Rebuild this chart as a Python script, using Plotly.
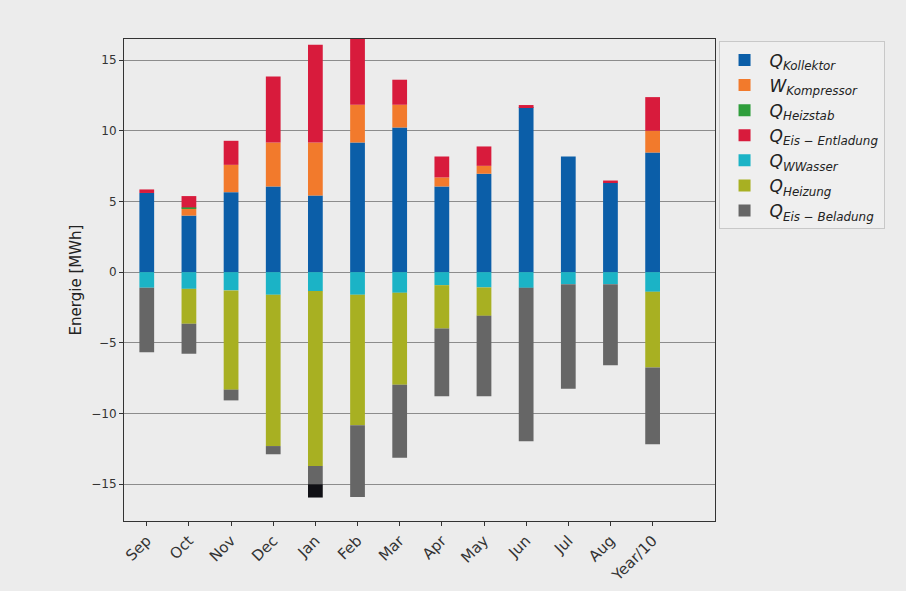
import plotly.graph_objects as go

months = ["Sep", "Oct", "Nov", "Dec", "Jan", "Feb", "Mar", "Apr", "May", "Jun", "Jul", "Aug", "Year/10"]

q_kollektor = [5.60, 4.00, 5.66, 6.06, 5.42, 9.17, 10.23, 6.06, 6.96, 11.68, 8.18, 6.34, 8.46]
w_kompressor = [0.00, 0.50, 1.93, 3.11, 3.75, 2.67, 1.61, 0.64, 0.56, 0.00, 0.00, 0.00, 1.54]
q_heizstab = [0.00, 0.08, 0.00, 0.00, 0.00, 0.00, 0.00, 0.00, 0.00, 0.00, 0.00, 0.00, 0.00]
q_eis_entladung = [0.25, 0.80, 1.70, 4.67, 6.92, 4.80, 1.77, 1.48, 1.37, 0.14, 0.00, 0.14, 2.38]
q_wwasser = [-1.10, -1.18, -1.29, -1.60, -1.34, -1.60, -1.46, -0.92, -1.08, -1.11, -0.85, -0.85, -1.39]
q_heizung = [0.00, -2.47, -7.02, -10.70, -12.37, -9.23, -6.50, -3.07, -2.01, 0.00, 0.00, 0.00, -5.35]
q_eis_beladung = [-4.57, -2.12, -0.76, -0.58, -1.29, -5.07, -5.16, -4.79, -5.69, -10.85, -7.40, -5.73, -5.43]
q_rest = [0, 0, 0, 0, -0.94, 0, 0, 0, 0, 0, 0, 0, 0]

series = [
    ("<i>Q<sub>Kollektor</sub></i>", q_kollektor, "#0b5ea8", True),
    ("<i>W<sub>Kompressor</sub></i>", w_kompressor, "#f27a2c", True),
    ("<i>Q<sub>Heizstab</sub></i>", q_heizstab, "#2f9e3c", True),
    ("<i>Q<sub>Eis − Entladung</sub></i>", q_eis_entladung, "#d81b3c", True),
    ("<i>Q<sub>WWasser</sub></i>", q_wwasser, "#1bb3c6", True),
    ("<i>Q<sub>Heizung</sub></i>", q_heizung, "#a8b022", True),
    ("<i>Q<sub>Eis − Beladung</sub></i>", q_eis_beladung, "#666666", True),
    ("Rest", q_rest, "#101015", False),
]

x = list(range(len(months)))
fig = go.Figure()
for name, vals, color, show in series:
    fig.add_trace(go.Bar(
        x=x, y=vals, name=name, marker=dict(color=color, line=dict(width=0)),
        width=0.35, showlegend=show,
    ))

fig.update_layout(
    barmode="relative",
    width=906, height=591,
    margin=dict(l=124, r=191, t=39, b=70),
    paper_bgcolor="#ececec",
    plot_bgcolor="#ececec",
    font=dict(family="DejaVu Sans", color="#333333"),
    legend=dict(
        x=1.006, y=0.995, xanchor="left", yanchor="top",
        bgcolor="#efefef", bordercolor="#c8c8c8", borderwidth=1,
        font=dict(size=17, color="#222222"),
        traceorder="normal", itemwidth=40,
    ),
    xaxis=dict(
        range=[-0.54, 13.48], automargin=False,
        tickmode="array", tickvals=x, ticktext=months,
        tickangle=-45, tickfont=dict(size=15, color="#333333"),
        ticks="outside", ticklen=4, tickcolor="#333333",
        showgrid=False, zeroline=False,
        showline=True, linecolor="#333333", linewidth=1, mirror=True,
    ),
    yaxis=dict(
        range=[-17.6, 16.49], automargin=False,
        tickmode="array", tickvals=[-15, -10, -5, 0, 5, 10, 15],
        ticktext=["−15", "−10", "−5", "0", "5", "10", "15"],
        tickfont=dict(size=12, color="#333333"),
        ticks="outside", ticklen=4, tickcolor="#333333",
        showgrid=True, gridcolor="#8c8c8c", gridwidth=1,
        zeroline=False,
        showline=True, linecolor="#333333", linewidth=1, mirror=True,
        title=dict(text="Energie [MWh]", font=dict(size=15, color="#222222"), standoff=6),
    ),
)

fig.write_html(
    "out.html",
    config={"displayModeBar": False},
    post_script="document.body.style.margin='0';document.body.style.background='#ececec';",
)
